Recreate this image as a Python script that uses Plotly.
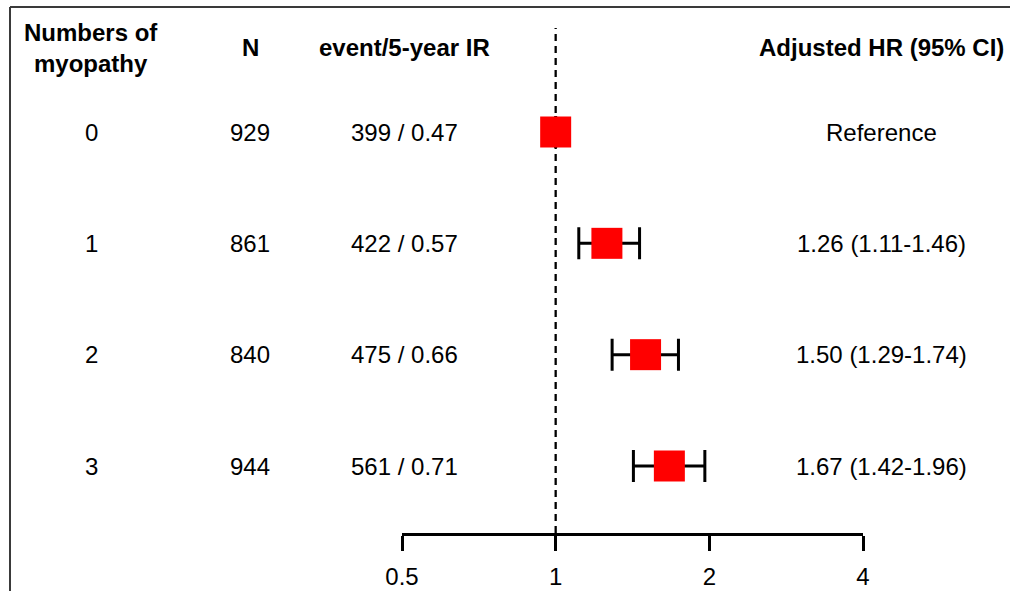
import plotly.graph_objects as go
import math

# ---- data ----
groups = ["0", "1", "2", "3"]
n_values = ["929", "861", "840", "944"]
event_ir = ["399 / 0.47", "422 / 0.57", "475 / 0.66", "561 / 0.71"]
hr = [1.00, 1.26, 1.50, 1.67]
ci_low = [None, 1.11, 1.29, 1.42]
ci_high = [None, 1.46, 1.74, 1.96]
hr_text = ["Reference", "1.26 (1.11-1.46)", "1.50 (1.29-1.74)", "1.67 (1.42-1.96)"]
tick_vals = [0.5, 1, 2, 4]
tick_text = ["0.5", "1", "2", "4"]
headers = ["Numbers of<br>myopathy", "N", "event/5-year IR", "Adjusted HR (95% CI)"]

W, H = 1010, 591
FONT = "Liberation Sans, Arial, sans-serif"
rows = list(range(len(groups)))

err_plus = [None if h is None else h - v for v, h in zip(hr, ci_high)]
err_minus = [None if l is None else v - l for v, l in zip(hr, ci_low)]

fig = go.Figure()
fig.add_trace(go.Scatter(
    x=hr, y=rows, mode="markers",
    marker=dict(symbol="square", size=31, color="#FF0000", line=dict(width=0)),
    error_x=dict(type="data", symmetric=False, array=err_plus, arrayminus=err_minus,
                 color="black", thickness=3, width=16),
    cliponaxis=False, showlegend=False, hoverinfo="skip",
))

# reference line at HR = 1
fig.add_shape(type="line", xref="x", yref="paper", x0=1, x1=1,
              y0=1 - 545 / H, y1=1 - 28 / H,
              line=dict(color="black", width=2.3, dash="7px,5px"), layer="below")

# frame lines (top and left)
fig.add_shape(type="line", xref="paper", yref="paper", x0=10 / W, x1=1, y0=1 - 7 / H, y1=1 - 7 / H,
              line=dict(color="#3a3a3a", width=2))
fig.add_shape(type="line", xref="paper", yref="paper", x0=10 / W, x1=10 / W, y0=0, y1=1 - 7 / H,
              line=dict(color="#3a3a3a", width=2))

col_x = [91, 250, 404, 881]
hdr_y = [48, 47, 47, 47]
for cx, hy, t in zip(col_x, hdr_y, headers):
    fig.add_annotation(x=cx / W, y=1 - hy / H, xref="paper", yref="paper", text="<b>%s</b>" % t,
                       showarrow=False, font=dict(size=24, color="black", family=FONT),
                       xanchor="center", yanchor="middle")

for i in rows:
    for cx, t in zip(col_x, [groups[i], n_values[i], event_ir[i], hr_text[i]]):
        fig.add_annotation(x=cx / W, y=i, xref="paper", yref="y", text=t, showarrow=False,
                           font=dict(size=24, color="black", family=FONT),
                           xanchor="center", yanchor="middle")

row_px = [132, 466]
unit = (row_px[1] - row_px[0]) / 3
y_top = -row_px[0] / unit
y_bot = (H - row_px[0]) / unit

fig.update_layout(
    width=W, height=H, autosize=False,
    margin=dict(l=0, r=0, t=0, b=0, pad=0, autoexpand=False),
    paper_bgcolor="white", plot_bgcolor="white",
    xaxis=dict(type="log", range=[math.log10(0.5), math.log10(4)], domain=[402 / W, 863 / W],
               anchor="free", position=1 - 534 / H, showline=True, linecolor="black", linewidth=2.8,
               ticks="outside", ticklen=15, tickwidth=2.8, tickcolor="black", automargin=False,
               ticklabelstandoff=5,
               tickvals=tick_vals, ticktext=tick_text, showgrid=False, zeroline=False,
               tickfont=dict(size=24, color="black", family=FONT)),
    yaxis=dict(range=[y_bot, y_top], domain=[0, 1], visible=False, showgrid=False,
               zeroline=False, automargin=False),
)

fig.write_html("out.html", config={"displayModeBar": False},
               post_script="document.body.style.margin='0';")
